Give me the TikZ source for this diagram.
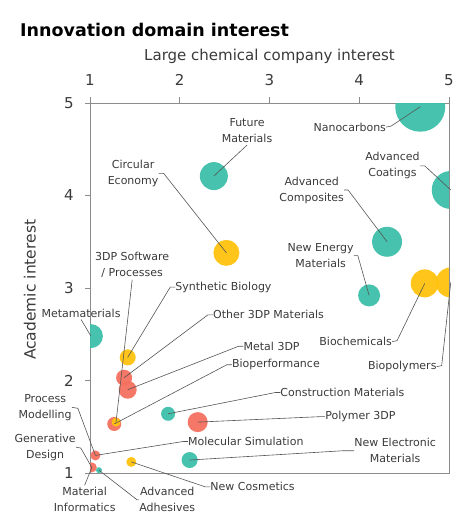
\documentclass[tikz,border=0pt]{standalone}
\usepackage{fontspec}
\setmainfont{DejaVu Sans}
\usepackage{xcolor}
\usetikzlibrary{arrows.meta}

\definecolor{tealbub}{HTML}{3DBFAA}
\definecolor{goldbub}{HTML}{FFC20E}
\definecolor{redbub}{HTML}{F4705F}
\definecolor{axisgray}{HTML}{8C8C8C}
\definecolor{leadgray}{HTML}{555555}
\definecolor{txtgray}{HTML}{3A3A3A}

\begin{document}
\begin{tikzpicture}[x=89.75pt,y=92.5pt,
    bub/.style={circle,inner sep=0pt,opacity=0.95},
    lbl/.style={inner sep=0pt,text=txtgray,align=center,font=\fontsize{11}{16}\selectfont},
    lead/.style={draw=leadgray,line width=0.6pt},
    tick/.style={axisgray,line width=0.8pt}]
        \useasboundingbox (-0.003,0.535) rectangle (5.078,6.114);

        % titles and axes
        \node[anchor=west,inner sep=0pt,font=\fontsize{17.5}{20}\selectfont\bfseries] (title) at (0.22,5.79) {Innovation domain interest};
        \node[inner sep=0pt,text=txtgray,font=\fontsize{15}{18}\selectfont] (xtitle) at (3.0,5.50) {Large chemical company interest};
        \node[inner sep=0pt,text=txtgray,rotate=90,font=\fontsize{15.5}{18}\selectfont] (ytitle) at (0.33,2.98) {Academic interest};

        \draw[axisgray,line width=0.8pt] (1,1) rectangle (5,5);
        \foreach \v in {1,...,5} {
            \draw[tick] (\v,5) -- ++(0,6pt);
            \node[inner sep=0pt,text=txtgray,font=\fontsize{15}{18}\selectfont] (xt\v) at (\v,5.25) {\v};
            \draw[tick] (1,\v) -- ++(-5pt,0);
            \node[anchor=east,inner sep=0pt,text=txtgray,font=\fontsize{15}{18}\selectfont] (yt\v) at (0.82,\v) {\v};
        }

        % bubbles
        \begin{scope}
        \clip (1,1) rectangle (5,5);
        \node[bub,fill=tealbub,minimum size=50pt] (nano)    at (4.68,4.96) {};
        \node[bub,fill=tealbub,minimum size=38pt] (coat)    at (5.02,4.06) {};
        \node[bub,fill=tealbub,minimum size=28pt] (future)  at (2.38,4.21) {};
        \node[bub,fill=goldbub,minimum size=26pt] (circ)    at (2.52,3.38) {};
        \node[bub,fill=tealbub,minimum size=30pt] (comp)    at (4.31,3.50) {};
        \node[bub,fill=tealbub,minimum size=22pt] (energy)  at (4.11,2.92) {};
        \node[bub,fill=goldbub,minimum size=28pt] (biochem) at (4.73,3.05) {};
        \node[bub,fill=goldbub,minimum size=30pt] (biopoly) at (5.02,3.06) {};
        \node[bub,fill=tealbub,minimum size=24pt] (meta)    at (1.01,2.48) {};
        \node[bub,fill=goldbub,minimum size=16pt] (synbio)  at (1.42,2.25) {};
        \node[bub,fill=redbub,minimum size=16pt]  (other)   at (1.38,2.03) {};
        \node[bub,fill=redbub,minimum size=18pt]  (metal)   at (1.42,1.90) {};
        \node[bub,fill=redbub,minimum size=14pt]  (bioperf) at (1.27,1.53) {};
        \node[bub,fill=goldbub,minimum size=9pt]  (soft)    at (1.29,1.55) {};
        \node[bub,fill=tealbub,minimum size=14pt] (constr)  at (1.87,1.64) {};
        \node[bub,fill=redbub,minimum size=20pt]  (polymer) at (2.20,1.55) {};
        \node[bub,fill=tealbub,minimum size=16pt] (electro) at (2.11,1.14) {};
        \node[bub,fill=goldbub,minimum size=10pt] (cosm)    at (1.46,1.12) {};
        \node[bub,fill=redbub,minimum size=10pt]  (molsim)  at (1.06,1.19) {};
        \node[bub,fill=redbub,minimum size=10pt]  (gen)     at (1.02,1.06) {};
        \node[bub,fill=tealbub,minimum size=6pt]  (adhes)   at (1.10,1.03) {};
        \end{scope}

        % labels
        \node[lbl,anchor=east] (lNano)   at (4.30,4.74) {Nanocarbons};
        \node[lbl] (lFuture) at (2.75,4.70) {Future\\Materials};
        \node[lbl] (lCirc)   at (1.48,4.24) {Circular\\Economy};
        \node[lbl] (lComp)   at (3.47,4.06) {Advanced\\Composites};
        \node[lbl] (lCoat)   at (4.37,4.32) {Advanced\\Coatings};
        \node[lbl] (lEnergy) at (3.57,3.35) {New Energy\\Materials};
        \node[lbl] (lBiochem) at (3.96,2.42) {Biochemicals};
        \node[lbl] (lBiopoly) at (4.48,2.15) {Biopolymers};
        \node[lbl] (lMeta)   at (0.90,2.73) {Metamaterials};
        \node[lbl] (lSoft)   at (1.47,3.25) {3DP Software\\/ Processes};
        \node[lbl,anchor=west] (lSynbio)  at (1.95,3.01) {Synthetic Biology};
        \node[lbl,anchor=west] (lOther)   at (2.37,2.71) {Other 3DP Materials};
        \node[lbl,anchor=west] (lMetal)   at (2.71,2.37) {Metal 3DP};
        \node[lbl,anchor=west] (lBioperf) at (2.58,2.17) {Bioperformance};
        \node[lbl,anchor=west] (lConstr)  at (3.12,1.87) {Construction Materials};
        \node[lbl,anchor=west] (lPolymer) at (3.62,1.61) {Polymer 3DP};
        \node[lbl,anchor=west] (lMolsim)  at (2.09,1.34) {Molecular Simulation};
        \node[lbl] (lElectro) at (4.40,1.24) {New Electronic\\Materials};
        \node[lbl,anchor=west] (lCosm)    at (2.34,0.85) {New Cosmetics};
        \node[lbl] (lAdhes)  at (1.86,0.71) {Advanced\\Adhesives};
        \node[lbl] (lInf)    at (0.94,0.71) {Material\\Informatics};
        \node[lbl] (lProc)   at (0.50,1.71) {Process\\Modelling};
        \node[lbl] (lGen)    at (0.50,1.28) {Generative\\Design};

        % leader lines
        \draw[lead] (lNano.east) -- ++(5pt,1pt) -- (nano.center);
        \draw[lead] ([yshift=-2pt]lFuture.south) -- (future.center);
        \draw[lead] (lCirc.east) -- ++(5pt,0) -- (circ.center);
        \draw[lead] (lComp.east) -- ++(4pt,0) -- (comp.center);
        \draw[lead] (lCoat.east) -- ++(5pt,0) -- (coat.center);
        \draw[lead] (lEnergy.east) -- ++(4pt,0) -- (energy.center);
        \draw[lead] (lBiochem.east) -- ++(5pt,1pt) -- (biochem.center);
        \draw[lead] (lBiopoly.east) -- ++(5pt,1pt) -- (biopoly.center);
        \draw[lead] ([yshift=-2pt]lMeta.south) -- (meta.center);
        \draw[lead] ([yshift=-2pt]lSoft.south) -- (soft.center);
        \draw[lead] (lSynbio.west) -- ++(-5pt,0) -- (synbio.center);
        \draw[lead] (lOther.west) -- ++(-5pt,0) -- (other.center);
        \draw[lead] (lMetal.west) -- ++(-5pt,0) -- (metal.center);
        \draw[lead] (lBioperf.west) -- ++(-5pt,0) -- (bioperf.center);
        \draw[lead] (lConstr.west) -- ++(-5pt,0) -- (constr.center);
        \draw[lead] (lPolymer.west) -- ++(-3pt,0) -- (polymer.center);
        \draw[lead] (lMolsim.west) -- ++(-5pt,0) -- (molsim.center);
        \draw[lead] (lElectro.west) -- ++(-12pt,0) -- (electro.center);
        \draw[lead] (lCosm.west) -- ++(-5pt,0) -- (cosm.center);
        \draw[lead] (lAdhes.west) -- ++(-2pt,0) -- (adhes.center);
        \draw[lead] ([yshift=2pt]lInf.north) -- (gen.center);
        \draw[lead] (lProc.east) -- ++(6pt,-1pt) -- (molsim.center);
        \draw[lead] (lGen.east) -- ++(5pt,-1pt) -- (gen.center);
    \end{tikzpicture}
\end{document}
